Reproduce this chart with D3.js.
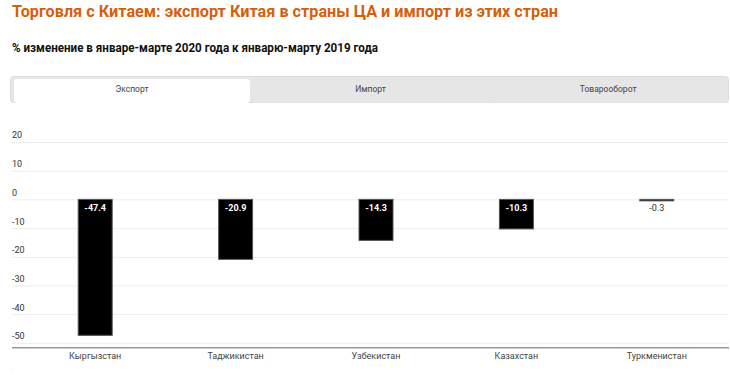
<!DOCTYPE html>
<html>
<head>
<meta charset="utf-8">
<script src="https://cdn.jsdelivr.net/npm/d3@7"></script>
<style>
	body { margin: 0; background: #fff; }
	svg { display: block; font-family: Roboto, sans-serif; }
</style>
</head>
<body>
<div id="vizContainer"></div>
<script>
let w = 730;
let h = 375;

let countries = ["Кыргызстан", "Таджикистан", "Узбекистан", "Казахстан", "Туркменистан"];
let exportChange = [-47.4, -20.9, -14.3, -10.3, -0.3];
let yTicks = [20, 10, 0, -10, -20, -30, -40, -50];
let tabs = ["Экспорт", "Импорт", "Товарооборот"];

let titleText = "Торговля с Китаем: экспорт Китая в страны ЦА и импорт из этих стран";
let subtitleText = "% изменение в январе-марте 2020 года к январю-марту 2019 года";

// plain hyphen minus, like the original
let fmt = d => d.toFixed(1);

let viz = d3.select("#vizContainer").append("svg")
	.attr("width", w)
	.attr("height", h)
	;

// title + subtitle
viz.append("text")
	.attr("x", 12)
	.attr("y", 17)
	.attr("font-size", 17)
	.attr("font-weight", "bold")
	.attr("fill", "#d4600c")
	.attr("textLength", 546)
	.attr("lengthAdjust", "spacingAndGlyphs")
	.text(titleText);

viz.append("text")
	.attr("x", 12)
	.attr("y", 52)
	.attr("font-size", 12)
	.attr("font-weight", "bold")
	.attr("fill", "#111")
	.attr("textLength", 366)
	.attr("lengthAdjust", "spacingAndGlyphs")
	.text(subtitleText);

// tabs
let tabGroup = viz.append("g").attr("class", "tabs");
tabGroup.append("rect")
	.attr("x", 10.5).attr("y", 76.5)
	.attr("width", 718).attr("height", 26)
	.attr("rx", 3)
	.attr("fill", "#e6e6e6")
	.attr("stroke", "#ddd");

let tabScale = d3.scaleBand().domain(tabs).range([14, 727]);

tabGroup.selectAll(".tab").data(tabs).enter().append("rect")
	.attr("class", "tab")
	.attr("x", d => tabScale(d))
	.attr("y", 79)
	.attr("width", (d, i) => i == 0 ? 236 : tabScale.bandwidth())
	.attr("height", 24)
	.attr("rx", 3)
	.attr("fill", (d, i) => i == 0 ? "#fff" : "#e6e6e6");

tabGroup.append("rect")
	.attr("x", 0).attr("y", 103).attr("width", w).attr("height", 6).attr("fill", "#fff");

tabGroup.selectAll(".tabLabel").data(tabs).enter().append("text")
	.attr("class", "tabLabel")
	.attr("x", (d, i) => i == 0 ? 132 : tabScale(d) + tabScale.bandwidth() / 2)
	.attr("y", 92)
	.attr("text-anchor", "middle")
	.attr("font-size", 8.5)
	.attr("fill", "#444")
	.text(d => d);

// scales
let xScale = d3.scaleBand().domain(countries).range([25, 727])
	.paddingInner(0.758).paddingOuter(0.379);
let yScale = d3.scaleLinear().domain([-51.7, 20]).range([347.7, 142]);

let graphGroup = viz.append("g").attr("class", "graphGroup");

// gridlines + y labels
let yAxis = d3.axisLeft(yScale).tickValues(yTicks).tickSize(-717).tickFormat(d => String(d));
let yAxisGroup = graphGroup.append("g")
	.attr("transform", "translate(12,0)")
	.call(yAxis);
yAxisGroup.select(".domain").remove();
yAxisGroup.selectAll(".tick line").attr("stroke", "#ececec");
yAxisGroup.selectAll(".tick text")
	.attr("x", 0)
	.attr("dy", "-0.45em")
	.attr("text-anchor", "start")
	.attr("font-size", 9)
	.attr("font-family", "Roboto, sans-serif")
	.attr("fill", "#333");

// bottom axis line
graphGroup.append("line")
	.attr("x1", 12).attr("x2", 729)
	.attr("y1", yScale.range()[0]).attr("y2", yScale.range()[0])
	.attr("stroke", "#999")
	.attr("stroke-width", 1.5);

// bars
let bars = graphGroup.selectAll(".bar").data(exportChange).enter();
bars.append("rect")
	.attr("class", "bar")
	.attr("x", (d, i) => xScale(countries[i]))
	.attr("y", d => yScale(Math.max(0, d)))
	.attr("width", xScale.bandwidth())
	.attr("height", d => Math.max(1.5, Math.abs(yScale(d) - yScale(0))))
	.attr("fill", "#000")
	.attr("stroke", "#555")
	.attr("stroke-width", 1);

// value labels
let big = d => Math.abs(yScale(d) - yScale(0)) > 15;
bars.append("text")
	.attr("x", (d, i) => xScale(countries[i]) + xScale.bandwidth() / 2)
	.attr("y", d => yScale(0) + 11.5)
	.attr("text-anchor", "middle")
	.attr("font-size", 9)
	.attr("font-weight", d => big(d) ? "bold" : "normal")
	.attr("fill", d => big(d) ? "#fff" : "#333")
	.text(d => fmt(d));

// category labels
graphGroup.selectAll(".cat").data(countries).enter().append("text")
	.attr("class", "cat")
	.attr("x", d => xScale(d) + xScale.bandwidth() / 2)
	.attr("y", 359)
	.attr("text-anchor", "middle")
	.attr("font-size", 9)
	.attr("fill", "#444")
	.text(d => d);

viz.append("text")
	.attr("x", 12).attr("y", 370)
	.attr("font-size", 6).attr("fill", "#999")
	.text(".");
</script>
</body>
</html>
